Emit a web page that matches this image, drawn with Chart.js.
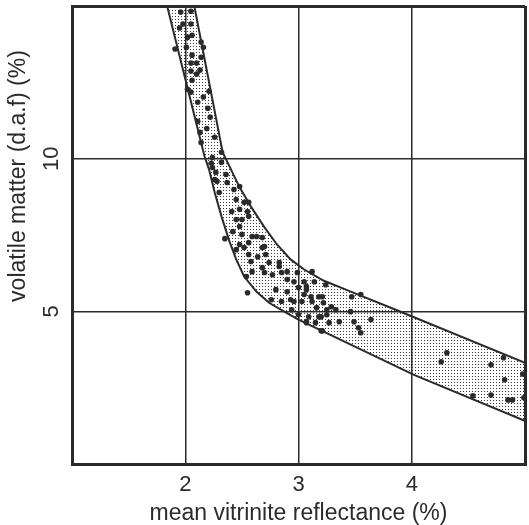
<!DOCTYPE html>
<html>
<head>
<meta charset="utf-8">
<script src="https://cdn.jsdelivr.net/npm/chart.js@4"></script>
<style>
  html, body { margin: 0; padding: 0; background: #fff; }
  #wrap { width: 529px; height: 525px; }
</style>
</head>
<body>
<div id="wrap"><canvas id="chart" width="529" height="525"></canvas></div>
<script>
// axis ticks and titles
const xTicks = [2, 3, 4];
const yTicks = [5, 10];
const xTitle = 'mean vitrinite reflectance (%)';
const yTitle = 'volatile matter (d.a.f) (%)';

// band edges (reflectance %, volatile matter %)
const upperEdgeX = [2.08, 2.33, 2.48, 2.58, 2.70, 2.81, 2.93, 3.05, 3.22, 3.44, 3.88, 5.0];
const upperEdgeY = [15, 10.21, 9.06, 8.43, 7.75, 7.19, 6.70, 6.37, 6.01, 5.68, 5.02, 3.31];
const lowerEdgeX = [1.84, 2.17, 2.21, 2.26, 2.32, 2.39, 2.45, 2.52, 2.63, 2.74, 2.89, 3.00, 4.02, 5.0];
const lowerEdgeY = [15, 10.08, 9.65, 8.89, 8.11, 7.29, 6.70, 6.14, 5.64, 5.28, 4.96, 4.73, 2.92, 1.41];

// samples
const sampleX = [
  1.96, 2.05, 1.98, 1.95, 2.05, 2.06, 2.02, 1.91, 2.01, 2.14, 2.16, 2.06, 2.05, 2.10, 2.14, 2.05,
  2.10, 2.13, 2.06, 2.02, 2.05, 2.16, 2.21, 2.11, 2.20, 2.22, 2.11, 2.19, 2.13, 2.26, 2.14,
  2.32, 2.24, 2.23, 2.24, 2.32, 2.27, 2.36, 2.26, 2.28, 2.37, 2.30, 2.43, 2.48, 2.45, 2.52, 2.56,
  2.41, 2.48, 2.55, 2.45, 2.50, 2.56, 2.48, 2.42, 2.35, 2.50, 2.59, 2.63, 2.56, 2.48, 2.70,
  2.68, 2.52, 2.45, 2.68, 2.71, 2.56, 2.64, 2.58, 2.74, 2.83, 2.68, 2.59, 2.70, 2.77, 2.85, 2.90,
  2.99, 2.54, 2.90, 2.96, 3.12, 2.80, 2.55, 2.90, 3.00, 3.07, 3.11, 3.18, 3.05, 2.76, 2.85, 2.93,
  3.12, 2.94, 3.16, 3.00, 3.09, 3.18, 3.25, 2.83, 3.05, 3.14, 3.24, 3.07, 3.21, 2.96, 3.03, 3.22,
  3.29, 3.25, 3.33, 3.47, 3.55, 3.46, 3.07, 3.20, 3.27, 3.36, 3.49, 3.64, 3.53, 3.55, 3.20, 3.07,
  3.15, 3.21,
  4.31, 4.26, 4.70, 4.81, 4.98, 4.82, 4.54, 4.70, 4.85, 4.89, 4.99
];
const sampleY = [
  14.80, 14.83, 14.41, 14.28, 14.41, 14.04, 13.98, 13.59, 13.65, 13.82, 13.65, 13.39, 13.13, 13.13, 13.32, 12.87,
  12.77, 12.90, 12.57, 12.27, 12.18, 12.02, 12.21, 11.85, 11.65, 11.36, 11.22, 10.99, 10.86, 10.70, 10.53,
  10.21, 10.04, 9.85, 9.71, 9.88, 9.55, 9.48, 9.32, 9.26, 9.22, 8.89, 8.99, 9.09, 8.66, 8.57, 8.57,
  8.27, 8.34, 8.27, 8.01, 8.01, 8.11, 7.78, 7.61, 7.38, 7.52, 7.45, 7.45, 7.25, 7.19, 7.12,
  7.42, 7.09, 7.02, 7.09, 6.86, 6.86, 6.79, 6.63, 6.60, 6.60, 6.43, 6.30, 6.27, 6.20, 6.27, 6.30,
  6.27, 6.14, 6.04, 5.97, 6.30, 5.71, 5.61, 5.64, 5.78, 5.81, 5.48, 5.48, 5.55, 5.38, 5.32, 5.38,
  5.32, 5.05, 5.12, 4.89, 4.82, 4.82, 4.89, 6.47, 5.97, 5.97, 5.87, 5.71, 5.48, 5.32, 5.32, 5.28,
  5.15, 5.05, 5.05, 5.48, 5.55, 4.99, 4.66, 4.82, 4.63, 4.66, 4.66, 4.73, 4.46, 4.30, 4.36, 4.63,
  4.63, 4.36,
  3.64, 3.35, 3.25, 3.48, 2.95, 2.76, 2.23, 2.26, 2.10, 2.10, 2.17
];

const INK = '#2b2b2b';
const FONT = '"Liberation Sans", Arial, Helvetica, sans-serif';

// stipple fill for the band
function stipple() {
  const tile = document.createElement('canvas');
  tile.width = 3;
  tile.height = 3;
  const t = tile.getContext('2d');
  t.fillStyle = '#3a3a3a';
  t.fillRect(1, 1, 1, 1);
  return t.createPattern(tile, 'repeat');
}

// closed outline: upper edge down to the right, lower edge back up
const bandPoints = upperEdgeX.map((x, i) => ({x, y: upperEdgeY[i]}))
  .concat(lowerEdgeX.map((x, i) => ({x, y: lowerEdgeY[i]})).reverse());
const samplePoints = sampleX.map((x, i) => ({x, y: sampleY[i]}));

// rotated y tick labels and y title
const sideText = {
  id: 'sideText',
  afterDraw(chart) {
    const {ctx} = chart;
    const y = chart.scales.y;
    ctx.save();
    ctx.fillStyle = INK;
    ctx.textAlign = 'center';
    ctx.textBaseline = 'middle';
    ctx.font = '22px ' + FONT;
    yTicks.forEach(v => {
      ctx.save();
      ctx.translate(52, y.getPixelForValue(v));
      ctx.rotate(-Math.PI / 2);
      ctx.fillText(String(v), 0, 0);
      ctx.restore();
    });
    ctx.font = '23px ' + FONT;
    ctx.translate(19, 176);
    ctx.rotate(-Math.PI / 2);
    ctx.fillText(yTitle, 0, 0);
    ctx.restore();
  }
};

const isEdge = (v, a, b) => v === a || v === b;

new Chart(document.getElementById('chart'), {
  type: 'line',
  data: {
    datasets: [
      {
        data: samplePoints,
        showLine: false,
        pointRadius: 2.8,
        pointBackgroundColor: INK,
        pointBorderWidth: 0,
        order: 0
      },
      {
        data: bandPoints,
        fill: 'shape',
        backgroundColor: stipple(),
        borderColor: INK,
        borderWidth: 2,
        pointRadius: 0,
        tension: 0,
        order: 1
      }
    ]
  },
  options: {
    responsive: false,
    animation: false,
    layout: { padding: { top: 6, right: 2, left: 0, bottom: 0 } },
    plugins: { legend: { display: false }, tooltip: { enabled: false } },
    scales: {
      x: {
        type: 'linear',
        min: 1,
        max: 5,
        ticks: {
          stepSize: 1,
          color: INK,
          padding: 8,
          font: { size: 22, family: FONT },
          callback: v => xTicks.includes(v) ? String(v) : ''
        },
        grid: {
          color: INK,
          drawTicks: false,
          lineWidth: c => (c.tick && isEdge(c.tick.value, 1, 5)) ? 3 : 1.5
        },
        border: { color: INK, width: 3 },
        title: {
          display: true,
          text: xTitle,
          color: INK,
          font: { size: 23, family: FONT },
          padding: { top: 0, bottom: -2 }
        },
        afterFit: s => { s.height = 61; s.paddingLeft = 0; s.paddingRight = 0; }
      },
      y: {
        min: 0,
        max: 15,
        ticks: { stepSize: 5, display: false },
        grid: {
          color: INK,
          drawTicks: false,
          lineWidth: c => (c.tick && isEdge(c.tick.value, 0, 15)) ? 3 : 1.5
        },
        border: { color: INK, width: 3 },
        afterFit: s => { s.width = 72; s.paddingTop = 0; s.paddingBottom = 0; }
      }
    }
  },
  plugins: [sideText]
});
</script>
</body>
</html>
